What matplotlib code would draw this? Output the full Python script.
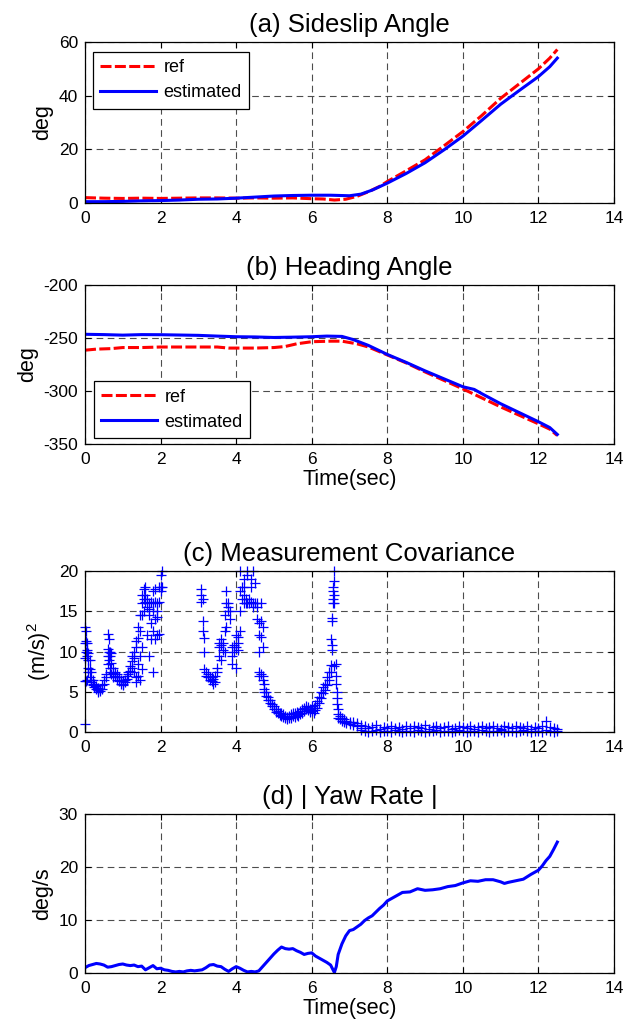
import numpy as np
import matplotlib
matplotlib.use('Agg')
import matplotlib.pyplot as plt

plt.rcParams['font.family'] = ['Liberation Sans', 'DejaVu Sans']
plt.rcParams['mathtext.fontset'] = 'custom'
plt.rcParams['mathtext.rm'] = 'Liberation Sans'
plt.rcParams['axes.unicode_minus'] = False

# (a) sideslip angle
ta_ref = [0, 0.5, 1, 1.5, 2, 2.5, 3, 3.5, 4, 4.5, 5, 5.5, 6, 6.3, 6.6, 6.9, 7.2, 7.5,
          7.8, 8, 8.5, 9, 9.5, 10, 10.5, 11, 11.5, 12, 12.3, 12.5]
sa_ref = [2.0, 1.8, 1.7, 1.8, 1.7, 1.8, 1.9, 1.9, 1.8, 1.9, 1.8, 1.9, 1.6, 1.5, 1.1, 1.4,
          2.5, 4.2, 6.2, 8.0, 12.0, 16.1, 21.3, 26.6, 32.6, 39.0, 44.5, 50.0, 54.0, 57.2]
ta_est = [0, 0.5, 1, 1.5, 2, 2.5, 3, 3.5, 4, 4.5, 5, 5.5, 6, 6.5, 7, 7.3, 7.6, 8, 8.5,
          9, 9.5, 10, 10.5, 11, 11.5, 12, 12.3, 12.5]
sa_est = [0.5, 0.5, 0.6, 0.8, 0.9, 1.1, 1.4, 1.5, 1.8, 2.2, 2.6, 2.8, 2.9, 2.9, 2.7, 3.3,
          4.8, 7.4, 11.0, 15.0, 19.8, 24.9, 30.8, 36.8, 42.0, 47.1, 50.8, 54.0]

# (b) heading angle
tb_ref = [0, 0.3, 0.7, 1, 1.5, 2, 3, 3.5, 3.8, 4.5, 5, 5.3, 5.6, 6, 6.5, 6.8, 7.2, 7.5,
          8, 8.5, 9, 9.5, 10, 10.5, 11, 11.5, 12, 12.3, 12.5]
hd_ref = [-261.5, -260.5, -260, -259, -259, -258.5, -258.5, -258.5, -259.5, -259.5, -259,
          -258, -255.5, -253.5, -253, -253, -255.5, -258.5, -266, -273.5, -282, -290,
          -298, -306.5, -315, -323, -331, -336, -342]
tb_est = [0, 0.5, 1, 1.5, 2, 2.5, 3, 3.5, 4, 4.5, 5, 5.5, 6, 6.4, 6.8, 7.1, 7.5, 8, 8.5,
          9, 9.5, 10, 10.3, 10.5, 11, 11.5, 12, 12.3, 12.5]
hd_est = [-246.5, -246.8, -247.3, -246.8, -246.9, -247.2, -247.5, -248.2, -248.8, -249,
          -249.5, -249.2, -248.8, -248.2, -248.5, -251.5, -257, -265.5, -273, -281,
          -288.5, -296, -298.5, -302.5, -312, -320.5, -329, -334.5, -341]

# (c) measurement covariance, (time, value) groups
cov_groups = [
    (0.00, [1.0, 6.3, 9.2, 11.0, 13.0]), (0.03, [12.5, 11.3, 10.0, 6.3]),
    (0.06, [11.0, 10.2, 9.5, 6.5]), (0.09, [9.8, 9.0, 8.0, 7.5]),
    (0.12, [9.0, 7.8, 6.8]), (0.15, [7.5, 6.5, 6.2]), (0.20, [6.5, 6.0, 5.8]),
    (0.25, [6.0, 5.6]), (0.30, [5.7, 5.3]), (0.35, [5.5, 5.2, 5.0]), (0.40, [5.4, 5.1]),
    (0.45, [5.8, 5.3]), (0.50, [6.5, 6.0]), (0.55, [7.2, 6.8]),
    (0.60, [9.5, 10.3, 12.2, 8.5]), (0.63, [11.5, 10.0, 9.0]),
    (0.66, [10.0, 9.5, 8.0, 7.5]), (0.70, [9.8, 8.6, 7.2]), (0.75, [8.0, 7.3, 6.8]),
    (0.80, [7.5, 7.0]), (0.85, [7.2, 6.8, 6.5]), (0.90, [6.8, 6.3]), (0.95, [6.5, 6.0]),
    (1.00, [6.3, 6.0, 5.8]), (1.05, [6.5, 6.2]), (1.10, [7.0, 6.6]), (1.15, [7.5, 7.2]),
    (1.20, [8.2, 7.6]), (1.25, [9.5, 8.8, 8.0]), (1.30, [10.0, 9.2, 7.5]),
    (1.35, [11.3, 10.5, 6.8, 6.2]), (1.40, [13.0, 11.7, 8.5, 7.0]),
    (1.45, [14.5, 12.5, 9.5, 6.5]), (1.50, [17.0, 16.0, 14.5, 10.5, 7.8]),
    (1.55, [17.8, 16.5, 15.0]), (1.60, [18.0, 17.0, 16.2]), (1.65, [16.5, 15.5, 12.0]),
    (1.70, [16.0, 15.3, 14.5, 9.5]), (1.75, [16.2, 13.5, 11.5]),
    (1.80, [17.5, 16.0, 15.0, 12.5, 7.5]), (1.85, [17.8, 16.2, 14.0, 11.5]),
    (1.90, [16.0, 15.0, 14.3, 12.0]), (1.95, [18.0, 16.2, 12.2]),
    (2.00, [19.5, 18.0, 17.5]), (2.05, [20.0, 18.0]),
    (3.08, [17.8, 17.0, 16.2]), (3.12, [16.5, 13.8, 12.5]), (3.15, [11.7, 10.0, 7.8]),
    (3.20, [7.5, 7.0]), (3.25, [7.2, 6.8]), (3.30, [6.8, 6.5]), (3.35, [6.8, 6.3]),
    (3.40, [6.6, 6.0]), (3.45, [7.0, 6.2]), (3.50, [8.0, 7.5]), (3.55, [9.5, 10.5, 11.0]),
    (3.60, [11.5, 10.8, 9.0]), (3.65, [11.0, 10.2]), (3.70, [14.5, 12.5, 10.0]),
    (3.73, [17.5, 16.0, 13.0]), (3.78, [16.0, 15.5, 15.0]), (3.85, [15.0, 14.0]),
    (3.90, [10.5, 9.5, 8.5]), (3.95, [10.8, 10.0]), (4.00, [10.5, 8.0, 12.0]),
    (4.05, [11.0, 11.8, 10.2]), (4.10, [20.0, 17.5, 15.0, 12.5]), (4.15, [18.0, 16.5]),
    (4.20, [19.0, 18.0, 17.0, 16.0]), (4.25, [16.5, 16.0]), (4.30, [20.0, 19.5, 16.0]),
    (4.35, [16.5, 16.0]), (4.40, [19.0, 18.0, 16.2]), (4.45, [20.0, 16.0, 15.5]),
    (4.50, [18.5, 16.0]), (4.55, [16.0, 15.5, 14.0]), (4.60, [13.5, 12.0, 10.0, 7.5, 7.0]),
    (4.65, [16.0, 13.8, 11.8, 7.2]), (4.70, [13.0, 10.5, 7.0, 6.5]),
    (4.75, [6.0, 5.3, 5.0]), (4.80, [5.0, 4.5]), (4.85, [4.4, 4.0]), (4.90, [4.0, 3.6]),
    (4.95, [3.5, 3.2]), (5.00, [3.2, 2.8]), (5.05, [2.8, 2.5]), (5.10, [2.6, 2.3]),
    (5.15, [2.4, 2.1]), (5.20, [2.3, 2.0]), (5.25, [2.2, 1.9]), (5.30, [2.0, 1.7]),
    (5.35, [1.9, 1.6]), (5.40, [2.0, 1.7]), (5.45, [2.2, 1.8]), (5.50, [2.4, 2.0]),
    (5.55, [2.3, 1.9]), (5.60, [2.5, 2.1]), (5.65, [2.4, 2.0]), (5.70, [2.6, 2.2]),
    (5.75, [2.8, 2.4]), (5.80, [3.0, 2.6]), (5.85, [3.2, 2.8]), (5.90, [3.1, 2.7]),
    (5.95, [2.9, 2.5]), (6.00, [3.2, 2.6]), (6.05, [3.0, 2.4]), (6.10, [3.4, 2.7]),
    (6.15, [3.8, 3.0]), (6.20, [4.4, 3.6]), (6.25, [5.0, 4.2]), (6.30, [5.6, 4.8]),
    (6.35, [6.0, 5.2]), (6.40, [6.8, 5.8]), (6.45, [7.5, 6.5]), (6.50, [8.3, 7.5, 11.5]),
    (6.53, [10.8, 13.8, 14.2, 10.2]), (6.56, [16.0, 17.5, 18.0, 16.5]),
    (6.60, [20.0, 18.8, 17.0, 16.0, 8.2]), (6.63, [8.5, 7.0, 6.0]),
    (6.66, [5.0, 4.2, 3.5]), (6.70, [2.8, 2.2, 1.8]), (6.75, [2.0, 1.6]),
    (6.80, [1.8, 1.4]), (6.85, [1.6, 1.3]), (6.90, [1.4, 1.1]), (7.00, [1.3, 1.0]),
    (7.10, [1.2, 0.9]), (7.20, [1.1, 0.8]), (7.30, [0.9, 0.5, 0.2]),
]
tc_tail = [7.4, 7.5, 7.6, 7.7, 7.8, 7.9, 8.0, 8.1, 8.2, 8.3, 8.4, 8.5, 8.6, 8.7, 8.8,
           8.9, 9.0, 9.1, 9.2, 9.3, 9.4, 9.5, 9.6, 9.7, 9.8, 9.9, 10.0, 10.1, 10.2, 10.3,
           10.4, 10.5, 10.6, 10.7, 10.8, 10.9, 11.0, 11.1, 11.2, 11.3, 11.4, 11.5, 11.6,
           11.7, 11.8, 11.9, 12.0, 12.1, 12.2, 12.3, 12.4, 12.5]
vc_tail_hi = [0.7, 0.5, 0.6, 0.9, 0.4, 0.6, 0.5, 0.8, 0.5, 0.6, 0.4, 0.7, 0.5, 0.8, 0.6,
              0.5, 0.9, 0.4, 0.6, 0.7, 0.5, 0.6, 0.8, 0.4, 0.5, 0.7, 0.6, 0.5, 0.8, 0.4,
              0.6, 0.7, 0.5, 0.6, 0.8, 0.5, 0.4, 0.7, 0.6, 0.5, 0.8, 0.6, 0.5, 0.7, 0.4,
              0.6, 0.5, 0.7, 1.4, 0.6, 0.5, 0.4]
vc_tail_lo = [0.1, 0.0, 0.1, 0.2, 0.0, 0.1, 0.1, 0.0, 0.2, 0.1, 0.0, 0.1, 0.1, 0.0, 0.2,
              0.1, 0.0, 0.1, 0.1, 0.2, 0.0, 0.1, 0.1, 0.0, 0.1, 0.2, 0.1, 0.0, 0.1, 0.1,
              0.0, 0.2, 0.1, 0.0, 0.1, 0.1, 0.2, 0.0, 0.1, 0.1, 0.0, 0.1, 0.2, 0.1, 0.0,
              0.1, 0.1, 0.0, 0.2, 0.1, 0.0, 0.1]

# (d) |yaw rate|
td = [0.0, 0.1, 0.2, 0.3, 0.4, 0.5, 0.6, 0.7, 0.8, 0.9, 1.0, 1.1, 1.2, 1.3, 1.4, 1.5,
      1.6, 1.7, 1.8, 1.9, 2.0, 2.1, 2.2, 2.3, 2.4, 2.5, 2.6, 2.7, 2.8, 2.9, 3.0, 3.1,
      3.2, 3.3, 3.4, 3.5, 3.6, 3.7, 3.8, 3.9, 4.0, 4.1, 4.2, 4.3, 4.4, 4.5, 4.6, 4.7,
      4.8, 4.9, 5.0, 5.1, 5.2, 5.3, 5.4, 5.5, 5.6, 5.7, 5.8, 5.9, 6.0, 6.1, 6.2, 6.3,
      6.4, 6.5, 6.55, 6.6, 6.65, 6.7, 6.8, 6.9, 7.0, 7.1, 7.2, 7.3, 7.4, 7.5, 7.6, 7.7,
      7.8, 7.9, 8.0, 8.2, 8.4, 8.6, 8.8, 9.0, 9.2, 9.4, 9.6, 9.8, 10.0, 10.2, 10.4,
      10.6, 10.8, 11.0, 11.1, 11.2, 11.4, 11.6, 11.8, 12.0, 12.1, 12.2, 12.3, 12.4, 12.5]
yaw = [1.0, 1.4, 1.6, 1.8, 1.7, 1.5, 1.1, 1.2, 1.4, 1.6, 1.7, 1.5, 1.4, 1.5, 1.2, 1.3,
       0.6, 1.0, 1.4, 0.8, 0.9, 0.6, 0.5, 0.3, 0.2, 0.3, 0.2, 0.4, 0.5, 0.4, 0.5, 0.6,
       1.0, 1.5, 1.6, 1.3, 1.2, 0.7, 0.3, 0.8, 1.2, 0.9, 0.5, 0.2, 0.3, 0.2, 0.4, 1.2,
       2.0, 2.8, 3.6, 4.3, 4.9, 4.6, 4.5, 4.6, 4.2, 3.9, 3.5, 3.7, 3.8, 3.2, 2.8, 2.4,
       2.0, 1.5, 0.8, 0.1, 1.2, 3.5, 5.5, 7.0, 8.0, 8.2, 8.7, 9.2, 9.9, 10.4, 10.8, 11.5,
       12.2, 12.8, 13.6, 14.4, 15.2, 15.3, 15.9, 15.6, 15.7, 15.9, 16.3, 16.5, 17.0,
       17.4, 17.3, 17.6, 17.6, 17.2, 16.9, 17.1, 17.4, 17.7, 18.6, 19.4, 20.2, 21.2,
       22.0, 23.3, 24.7]

tc, vc = [], []
for t, vals in cov_groups:
    for v in vals:
        tc.append(t)
        vc.append(v)
for t, hi, lo in zip(tc_tail, vc_tail_hi, vc_tail_lo):
    tc += [t, t]
    vc += [hi, lo]

fig = plt.figure(figsize=(6.34, 10.27), dpi=100)
W, H = 634.0, 1027.0
boxes = [(42, 203), (285, 444), (571, 732), (814, 973)]
axs = [fig.add_axes([85 / W, 1 - b / H, 529 / W, (b - t) / H]) for t, b in boxes]

grid_kw = dict(color='0.3', linestyle=(0, (6, 4)), linewidth=0.8)
for ax in axs:
    ax.set_xlim(0, 14)
    ax.set_xticks(range(0, 15, 2))
    ax.tick_params(direction='in', top=True, right=True, length=4, width=0.8,
                   labelsize=12.5, pad=5)
    ax.tick_params(axis='x', pad=6)
    ax.grid(True, **grid_kw)
    ax.set_axisbelow(True)
    for s in ax.spines.values():
        s.set_linewidth(0.9)

red_kw = dict(color='red', lw=2.2, dashes=(3.6, 1.1))
blue_kw = dict(color='blue', lw=2.2)
leg_kw = dict(fontsize=13, fancybox=False, framealpha=1, edgecolor='black',
              borderaxespad=0, handlelength=3.1, handletextpad=0.4, borderpad=0.4,
              labelspacing=0.45)
title_fs = 18.5

ax = axs[0]
ax.plot(ta_ref, sa_ref, label='ref', **red_kw)
ax.plot(ta_est, sa_est, label='estimated', **blue_kw)
ax.set_ylim(0, 60)
ax.set_yticks([0, 20, 40, 60])
ax.set_ylabel('deg', fontsize=15.5)
ax.set_title('(a) Sideslip Angle', fontsize=title_fs, pad=7)
lg = ax.legend(loc='upper left', bbox_to_anchor=(0.015, 0.938), **leg_kw)
lg.get_frame().set_linewidth(0.9)

ax = axs[1]
ax.plot(tb_ref, hd_ref, label='ref', **red_kw)
ax.plot(tb_est, hd_est, label='estimated', **blue_kw)
ax.set_ylim(-350, -200)
ax.set_yticks([-350, -300, -250, -200])
ax.set_ylabel('deg', fontsize=15.5)
ax.set_xlabel('Time(sec)', fontsize=15.5, labelpad=1)
ax.set_title('(b) Heading Angle', fontsize=title_fs, pad=7)
lg = ax.legend(loc='lower left', bbox_to_anchor=(0.017, 0.038), **leg_kw)
lg.get_frame().set_linewidth(0.9)

ax = axs[2]
ax.plot(tc, vc, linestyle='none', marker='+', color='blue', markersize=6.5,
        markeredgewidth=0.9, clip_on=False)
ax.set_ylim(0, 20)
ax.set_yticks([0, 5, 10, 15, 20])
ax.set_ylabel('$\\mathregular{(m/s)^2}$', fontsize=15.5)
ax.set_title('(c) Measurement Covariance', fontsize=title_fs, pad=7)

ax = axs[3]
ax.plot(td, yaw, **blue_kw)
ax.set_ylim(0, 30)
ax.set_yticks([0, 10, 20, 30])
ax.set_ylabel('deg/s', fontsize=15.5)
ax.set_xlabel('Time(sec)', fontsize=15.5, labelpad=1)
ax.set_title('(d) | Yaw Rate |', fontsize=title_fs, pad=7)

fig.savefig('out.png', dpi=100)
